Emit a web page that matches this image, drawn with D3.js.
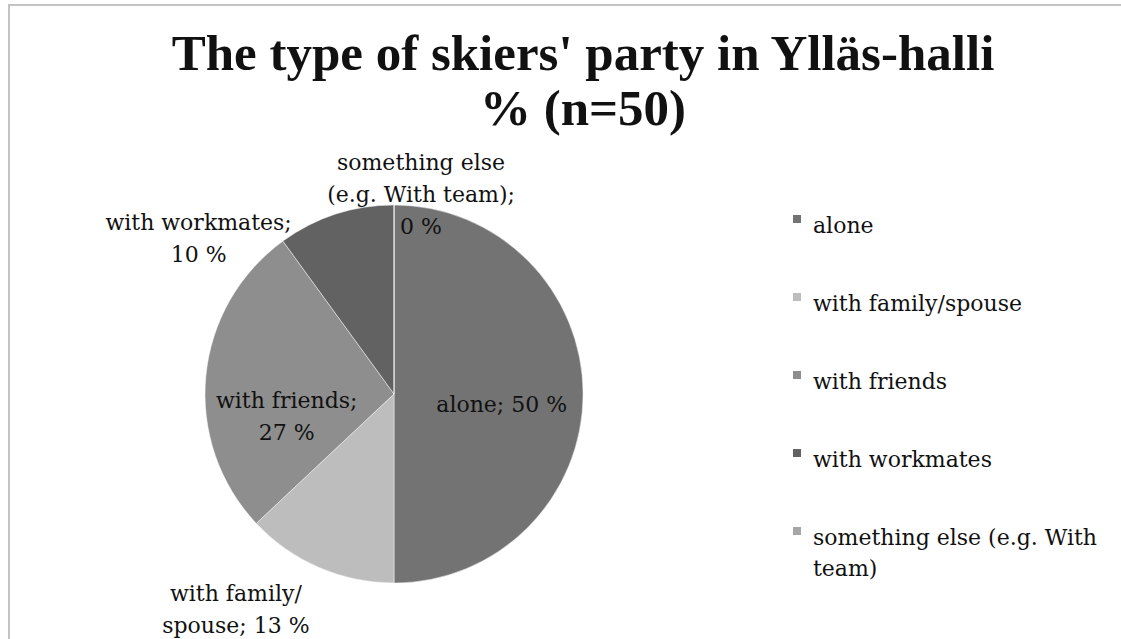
<!DOCTYPE html>
<html><head><meta charset="utf-8">
<script src="https://cdn.jsdelivr.net/npm/d3@7"></script>
<style>
html,body{margin:0;padding:0;background:#fff;}
svg{display:block;}
text{font-family:"DejaVu Serif","Liberation Serif",serif;fill:#111;}
</style></head><body>
<svg id="chart" width="1121" height="639"></svg>
<script>
const categories = ["alone", "with family/spouse", "with friends", "with workmates", "something else (e.g. With team)"];
const values = [50, 13, 27, 10, 0];
const colors = ["#737373", "#bdbdbd", "#8e8e8e", "#626262", "#a6a6a6"];
const labelLines = [
  ["alone; 50 %"],
  ["with family/", "spouse; 13 %"],
  ["with friends;", "27 %"],
  ["with workmates;", "10 %"],
  ["something else", "(e.g. With team);", "0 %"]
];
const legendLines = [
  ["alone"],
  ["with family/spouse"],
  ["with friends"],
  ["with workmates"],
  ["something else (e.g. With", "team)"]
];
const titleLines = ["The type of skiers' party in Ylläs-halli", "% (n=50)"];

// layout (not data)
const W = 1121, H = 639;
const cx = 394, cy = 394, R = 189;
const labelFont = 22, labelLH = 32;
// label placement: radius factor along slice mid-angle, plus fine offset
const labelPlace = [
  {k: 0.57, dx: 0, dy: 10},
  {k: 1.12, dx: -74, dy: 21},
  {k: 0.57, dx: 0, dy: 32},
  {k: 1.12, dx: -130, dy: 46},
  {k: 1.04, dx: 27, dy: -3}
];

const svg = d3.select("#chart");
svg.append("rect").attr("x", 9).attr("y", 5).attr("width", W + 20).attr("height", H + 20)
  .attr("fill", "#fff").attr("stroke", "#c3c3c3").attr("stroke-width", 2);

// title
const title = svg.append("text").attr("text-anchor", "middle")
  .style("font-family", "'Liberation Serif', serif")
  .style("font-weight", "bold").style("font-size", "51px");
titleLines.forEach((t, i) => {
  title.append("tspan").attr("x", 583).attr("y", 70 + i * 55).text(t);
});

const pie = d3.pie().sort(null).value(d => d)(values);
const arc = d3.arc().innerRadius(0).outerRadius(R);
const g = svg.append("g").attr("transform", `translate(${cx},${cy})`);
g.selectAll("path").data(pie).join("path")
  .attr("d", arc)
  .attr("fill", (d, i) => colors[i])
  .attr("stroke", "#fff").attr("stroke-width", 0.8).attr("stroke-opacity", 0.6);

// data labels
pie.forEach((d, i) => {
  const p = labelPlace[i];
  const a = (d.startAngle + d.endAngle) / 2;
  const x = Math.sin(a) * R * p.k + p.dx;
  const y = -Math.cos(a) * R * p.k + p.dy;
  const lines = labelLines[i];
  const t = g.append("text").attr("text-anchor", "middle").style("font-size", labelFont + "px");
  const y0 = y - (lines.length - 1) * labelLH / 2 + labelFont * 0.35;
  lines.forEach((s, j) => t.append("tspan").attr("x", x).attr("y", y0 + j * labelLH).text(s));
});

// legend
const lg = svg.append("g").attr("transform", "translate(793,0)");
const legY = d3.scalePoint().domain(categories).range([233, 545]);
categories.forEach((c, i) => {
  const y = legY(c);
  lg.append("rect").attr("x", 0).attr("y", y - 18).attr("width", 8).attr("height", 8).attr("fill", colors[i]);
  const t = lg.append("text").attr("x", 20).attr("y", y).style("font-size", labelFont + "px");
  legendLines[i].forEach((s, j) => t.append("tspan").attr("x", 20).attr("y", y + j * 31).text(s));
});
</script>
</body></html>
